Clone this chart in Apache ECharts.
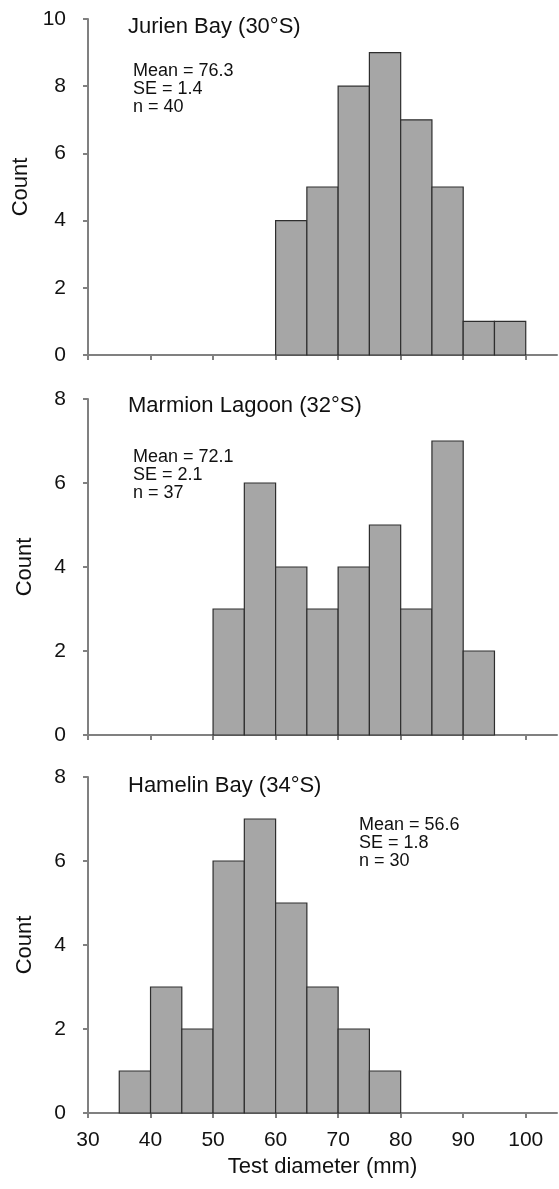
<!DOCTYPE html>
<html><head><meta charset="utf-8">
<script src="https://cdn.jsdelivr.net/npm/echarts@6/dist/echarts.min.js"></script>
<style>html,body{margin:0;padding:0;background:#fff}#c{width:559px;height:1189px}</style>
</head><body><div id="c"></div>
<script>
// ---- data ----
const binWidth = 5;
const jurienStarts = [60, 65, 70, 75, 80, 85, 90, 95];
const jurienCounts = [4, 5, 8, 9, 7, 5, 1, 1];
const marmionStarts = [50, 55, 60, 65, 70, 75, 80, 85, 90];
const marmionCounts = [3, 6, 4, 3, 4, 5, 3, 7, 2];
const hamelinStarts = [35, 40, 45, 50, 55, 60, 65, 70, 75];
const hamelinCounts = [1, 3, 2, 6, 7, 5, 3, 2, 1];
const xTicks = [30, 40, 50, 60, 70, 80, 90, 100];
const xMin = 30, xMax = 105;
const yMaxes = [10, 8, 8];
const yInterval = 2;
const panelTitles = ['Jurien Bay (30°S)', 'Marmion Lagoon (32°S)', 'Hamelin Bay (34°S)'];
const panelStats = [
  ['Mean = 76.3', 'SE = 1.4', 'n = 40'],
  ['Mean = 72.1', 'SE = 2.1', 'n = 37'],
  ['Mean = 56.6', 'SE = 1.8', 'n = 30']
];
const yName = 'Count';
const xName = 'Test diameter (mm)';

// ---- layout ----
const FONT = '"Liberation Sans", Arial, sans-serif';
const gridLeft = 88, gridWidth = 469, gridHeight = 336;
const gridTops = [19, 399, 777];
const titleLeft = [128, 128, 128];
const titleTop = [16, 395, 775];
const statsLeft = [133, 133, 359];
const statsTop = [62, 448, 816];
const axisColor = '#808080';
const textColor = '#111';

const panels = [
  [jurienStarts, jurienCounts],
  [marmionStarts, marmionCounts],
  [hamelinStarts, hamelinCounts]
];

function renderBar(params, api) {
  const s = api.value(0), c = api.value(1);
  const p0 = api.coord([s, c]);
  const p1 = api.coord([s + binWidth, 0]);
  return {
    type: 'rect',
    shape: { x: p0[0], y: p0[1], width: p1[0] - p0[0], height: p1[1] - p0[1] },
    style: { fill: '#a6a6a6', stroke: '#2e2e2e', lineWidth: 1.2 }
  };
}

const grid = [], xAxis = [], yAxis = [], series = [], graphic = [];
panels.forEach((p, i) => {
  grid.push({ left: gridLeft, width: gridWidth, top: gridTops[i], height: gridHeight });
  const last = i === panels.length - 1;
  xAxis.push({
    gridIndex: i, type: 'value', min: xMin, max: xMax, interval: 10,
    axisLine: { show: true, lineStyle: { color: axisColor, width: 2 } },
    axisTick: { show: true, length: 5, customValues: xTicks, lineStyle: { color: axisColor, width: 2 } },
    axisLabel: { show: last, customValues: xTicks, fontSize: 21, color: textColor, fontFamily: FONT, margin: 17 },
    splitLine: { show: false },
    name: last ? xName : '', nameLocation: 'middle', nameGap: 43,
    nameTextStyle: { fontSize: 22, color: textColor, fontFamily: FONT }
  });
  yAxis.push({
    gridIndex: i, type: 'value', min: 0, max: yMaxes[i], interval: yInterval,
    axisLine: { show: true, lineStyle: { color: axisColor, width: 2 } },
    axisTick: { show: true, length: 5, lineStyle: { color: axisColor, width: 2 } },
    axisLabel: { fontSize: 21, color: textColor, fontFamily: FONT, margin: 22 },
    splitLine: { show: false },
    name: yName, nameLocation: 'middle', nameGap: 52,
    nameTextStyle: { fontSize: 22, color: textColor, fontFamily: FONT }
  });
  series.push({
    type: 'custom', xAxisIndex: i, yAxisIndex: i,
    renderItem: renderBar,
    encode: { x: 0, y: 1 },
    data: p[0].map((s, k) => [s, p[1][k]]),
    silent: true
  });
  graphic.push({
    type: 'text', left: titleLeft[i], top: titleTop[i],
    style: { text: panelTitles[i], font: '22px ' + FONT, fill: textColor }
  });
  graphic.push({
    type: 'text', left: statsLeft[i], top: statsTop[i],
    style: { text: panelStats[i].join('\n'), font: '18px ' + FONT, fill: textColor, lineHeight: 18 }
  });
});

const chart = echarts.init(document.getElementById('c'), null, { renderer: 'canvas' });
chart.setOption({
  backgroundColor: '#fff',
  animation: false,
  grid, xAxis, yAxis, series, graphic
});
</script>
</body></html>
